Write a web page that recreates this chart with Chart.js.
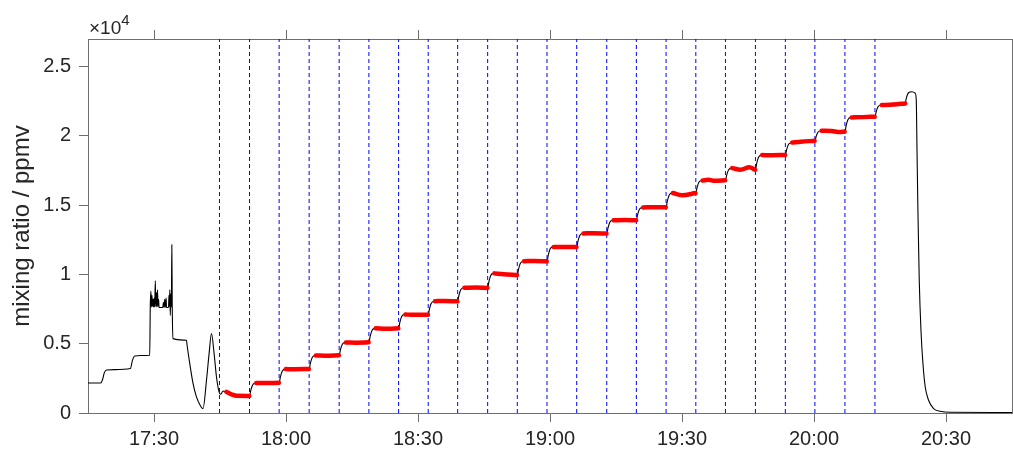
<!DOCTYPE html>
<html>
<head>
<meta charset="utf-8">
<script src="https://cdn.jsdelivr.net/npm/chart.js@4"></script>
<style>
html, body { margin: 0; padding: 0; background: #fff; }
</style>
</head>
<body>
<canvas id="myChart" width="1013" height="455"></canvas>
<script>
// all times are minutes after 17:00
const tickTimes = [30, 60, 90, 120, 150, 180, 210];
const tickLabels = ['17:30', '18:00', '18:30', '19:00', '19:30', '20:00', '20:30'];
const yTickValues = [0, 5000, 10000, 15000, 20000, 25000];
const yTickLabels = ['0', '0.5', '1', '1.5', '2', '2.5'];

// valve switch times (blue dashed lines)
const switchTimes = [44.88, 51.71, 58.44, 65.26, 72.08, 78.84, 85.59, 92.32, 99.01, 105.83, 112.57, 119.32,
    126.07, 132.90, 139.63, 146.38, 153.14, 159.87, 166.69, 173.49, 180.20, 187.03, 193.85];

// raw trace (black), ppmv
const traceTime = [15.00, 17.89, 18.30, 18.70, 19.20, 21.10, 24.64, 25.10, 25.62, 27.00, 29.03,
    29.15, 29.30, 29.40, 29.55, 29.65, 29.80, 29.90, 30.05, 30.15, 30.30, 30.40, 30.55, 30.65, 30.80, 30.90,
    31.05, 31.15, 32.00, 32.15, 32.25, 32.45, 32.55, 32.75, 32.85, 33.30, 33.40, 33.50, 33.60, 33.70, 33.85,
    33.95, 34.05, 34.15, 34.30, 37.38, 37.52, 38.13, 38.88, 39.65, 40.40, 41.15, 41.93, 42.52, 43.06, 43.66,
    44.20, 44.79, 45.11, 45.70, 46.25, 46.48, 47.61, 48.75,
    51.71, 52.01, 52.41, 53.01, 55.00,
    58.44, 58.74, 59.14, 59.74, 62.00,
    65.26, 65.56, 65.96, 66.56, 69.00,
    72.08, 72.38, 72.78, 73.38, 76.00,
    78.84, 79.14, 79.54, 80.14, 83.00,
    85.59, 85.89, 86.29, 86.89, 89.00,
    92.32, 92.62, 93.02, 93.62, 96.00,
    99.01, 99.31, 99.71, 100.31, 103.00,
    105.83, 106.13, 106.53, 107.13, 109.50,
    112.57, 112.87, 113.27, 113.87, 116.50,
    119.32, 119.62, 120.02, 120.62, 123.50,
    126.07, 126.37, 126.77, 127.37, 130.00,
    132.90, 133.20, 133.60, 134.20, 137.00,
    139.63, 139.93, 140.33, 140.93, 143.50,
    146.38, 146.68, 147.08, 147.68, 150.00,
    153.14, 153.44, 153.84, 154.44, 156.00, 157.50,
    159.87, 160.17, 160.57, 161.17, 163.30, 165.30,
    166.69, 166.99, 167.39, 167.99, 170.50,
    173.49, 173.79, 174.19, 174.79, 177.00,
    180.20, 180.50, 180.90, 181.50, 184.00, 185.80,
    187.03, 187.33, 187.73, 188.33, 191.00,
    193.85, 194.15, 194.55, 195.15, 198.00,
    200.74, 200.97, 201.49, 202.26, 203.01, 203.24, 203.40, 203.63, 203.92, 204.31, 204.76, 205.28,
    206.04, 207.18, 208.70, 210.98, 225.00];
const traceVal = [2170, 2170, 2400, 2900, 3100, 3130, 3210, 3800, 4120, 4150, 4170,
    7650, 8800, 7650, 8500, 7700, 8200, 7650, 8300, 7650, 9550, 7700, 8700, 7650, 8900, 7700,
    8200, 7620, 7620, 8000, 7620, 8200, 7620, 8300, 7620, 7620, 8500, 7700, 8900, 7050, 8600,
    7650, 12150, 7600, 5370, 5250, 4890, 3570, 2120, 1160, 610, 320, 2360, 4290, 5740, 4290,
    2600, 1520, 1350, 1590, 1520, 1520, 1350, 1240,
    1230, 1653, 2029, 2170, 2160,
    2180, 2626, 3022, 3170, 3160,
    3180, 3617, 4005, 4150, 4140,
    4170, 4584, 4952, 5090, 5080,
    5100, 5555, 5959, 6110, 6080,
    6110, 6560, 6960, 7110, 7090,
    7100, 7537, 7925, 8070, 8090,
    8060, 8501, 8893, 9040, 9060,
    9030, 9503, 9923, 10080, 10020,
    9960, 10410, 10810, 10960, 10980,
    10950, 11418, 11834, 11990, 11980,
    11980, 12421, 12813, 12960, 12980,
    12950, 13387, 13775, 13920, 13930,
    13920, 14334, 14702, 14840, 14860,
    14860, 15319, 15727, 15880, 15720,
    15880, 16290, 16654, 16790, 16830, 16760,
    16800, 17196, 17548, 17680, 17560, 17740,
    17560, 18037, 18461, 18620, 18610,
    18630, 19031, 19387, 19520, 19580,
    19650, 19979, 20271, 20380, 20360, 20280,
    20310, 20774, 21186, 21340, 21360,
    21390, 21768, 22104, 22230, 22270,
    22350, 22720, 23120, 23190, 23080, 22600, 19220, 14410, 9590, 5980, 3570, 1880,
    920, 320, 120, 50, 40];

// averaged plateaus (red), null separates the steps
const plateauTime = [46.48, 47.61, 48.75, 51.65, null,
    53.25, 55.00, 58.38, null,
    59.98, 62.00, 65.20, null,
    66.80, 69.00, 72.02, null,
    73.62, 76.00, 78.78, null,
    80.38, 83.00, 85.53, null,
    87.13, 89.00, 92.26, null,
    93.86, 96.00, 98.95, null,
    100.55, 103.00, 105.77, null,
    107.37, 109.50, 112.51, null,
    114.11, 116.50, 119.26, null,
    120.86, 123.50, 126.01, null,
    127.61, 130.00, 132.84, null,
    134.44, 137.00, 139.57, null,
    141.17, 143.50, 146.32, null,
    147.92, 150.00, 153.08, null,
    154.68, 156.00, 157.50, 159.81, null,
    161.41, 163.30, 165.30, 166.63, null,
    168.23, 170.50, 173.43, null,
    175.03, 177.00, 180.14, null,
    181.74, 184.00, 185.80, 186.97, null,
    188.57, 191.00, 193.79, null,
    195.39, 198.00, 200.74];
const plateauVal = [1520, 1350, 1240, 1230, null,
    2170, 2160, 2180, null,
    3170, 3160, 3180, null,
    4150, 4140, 4170, null,
    5090, 5080, 5100, null,
    6110, 6080, 6110, null,
    7110, 7090, 7100, null,
    8070, 8090, 8060, null,
    9040, 9060, 9030, null,
    10080, 10020, 9960, null,
    10960, 10980, 10950, null,
    11990, 11980, 11980, null,
    12960, 12980, 12950, null,
    13920, 13930, 13920, null,
    14840, 14860, 14860, null,
    15880, 15720, 15880, null,
    16790, 16830, 16760, 16800, null,
    17680, 17560, 17740, 17560, null,
    18620, 18610, 18630, null,
    19520, 19580, 19650, null,
    20380, 20360, 20280, 20310, null,
    21340, 21360, 21390, null,
    22230, 22270, 22350];

const yMax = 27000;
const axisColor = '#6e6e6e';
const textColor = '#262626';
const font = '"Liberation Sans", Arial, sans-serif';

const expLabel = {
    id: 'expLabel',
    afterDraw(chart) {
        const { ctx, chartArea } = chart;
        ctx.save();
        ctx.fillStyle = textColor;
        ctx.textBaseline = 'alphabetic';
        ctx.font = '19px ' + font;
        ctx.fillText('×10', chartArea.left + 1, 34);
        const w = ctx.measureText('×10').width;
        ctx.font = '15px ' + font;
        ctx.fillText('4', chartArea.left + 1 + w, 25);
        ctx.restore();
    }
};

const fixTicks = scale => { scale.ticks = tickTimes.map(v => ({ value: v })); };
const fixYTicks = scale => { scale.ticks = yTickValues.map(v => ({ value: v })); };

new Chart(document.getElementById('myChart'), {
    type: 'line',
    data: {
        datasets: [{
            label: 'plateau',
            data: plateauTime.map((t, i) => ({ x: t === null ? plateauTime[i - 1] : t, y: plateauVal[i] })),
            borderColor: '#ff0000',
            borderWidth: 4.5,
            borderCapStyle: 'round',
            borderJoinStyle: 'round',
            pointRadius: 0,
            cubicInterpolationMode: 'monotone',
            spanGaps: false,
            order: 0
        },
        {
            label: 'trace',
            data: traceTime.map((t, i) => ({ x: t, y: traceVal[i] })),
            borderColor: '#000000',
            borderWidth: 1.1,
            pointRadius: 0,
            cubicInterpolationMode: 'monotone',
            order: 1
        },
        {
            label: 'switch',
            data: switchTimes.flatMap(t => [{ x: t, y: 0 }, { x: t, y: yMax }, { x: t, y: null }]),
            borderColor: '#0000ff',
            borderWidth: 1,
            borderDash: [4, 3],
            pointRadius: 0,
            spanGaps: false,
            order: 2
        }]
    },
    options: {
        responsive: false,
        animation: false,
        layout: { padding: 0 },
        plugins: { legend: { display: false }, tooltip: { enabled: false } },
        scales: {
            x: {
                type: 'linear', position: 'bottom', min: 15, max: 225,
                afterBuildTicks: fixTicks,
                afterFit: s => { s.height = 42; },
                grid: { drawOnChartArea: false, tickLength: 9, color: axisColor },
                border: { color: axisColor },
                ticks: {
                    autoSkip: false, maxRotation: 0, padding: 5, color: textColor,
                    font: { family: font, size: 20 },
                    callback: (v, i) => tickLabels[i]
                }
            },
            x2: {
                type: 'linear', position: 'top', min: 15, max: 225,
                afterBuildTicks: fixTicks,
                afterFit: s => { s.height = 39; },
                grid: { drawOnChartArea: false, tickLength: 9, color: axisColor },
                border: { color: axisColor },
                ticks: { display: false }
            },
            y: {
                min: 0, max: yMax,
                afterBuildTicks: fixYTicks,
                afterFit: s => { s.width = 88; },
                grid: { drawOnChartArea: false, tickLength: 9, color: axisColor },
                border: { color: axisColor },
                ticks: {
                    padding: 8, color: textColor,
                    font: { family: font, size: 20 },
                    callback: (v, i) => yTickLabels[i]
                },
                title: {
                    display: true, text: 'mixing ratio / ppmv', color: textColor,
                    font: { family: font, size: 24 }, padding: { top: 8, bottom: 0 }
                }
            },
            y2: {
                position: 'right', min: 0, max: yMax,
                afterBuildTicks: fixYTicks,
                afterFit: s => { s.width = 1; },
                grid: { drawOnChartArea: false, tickLength: 0, color: axisColor },
                border: { color: axisColor },
                ticks: { display: false }
            }
        }
    },
    plugins: [expLabel]
});
</script>
</body>
</html>
